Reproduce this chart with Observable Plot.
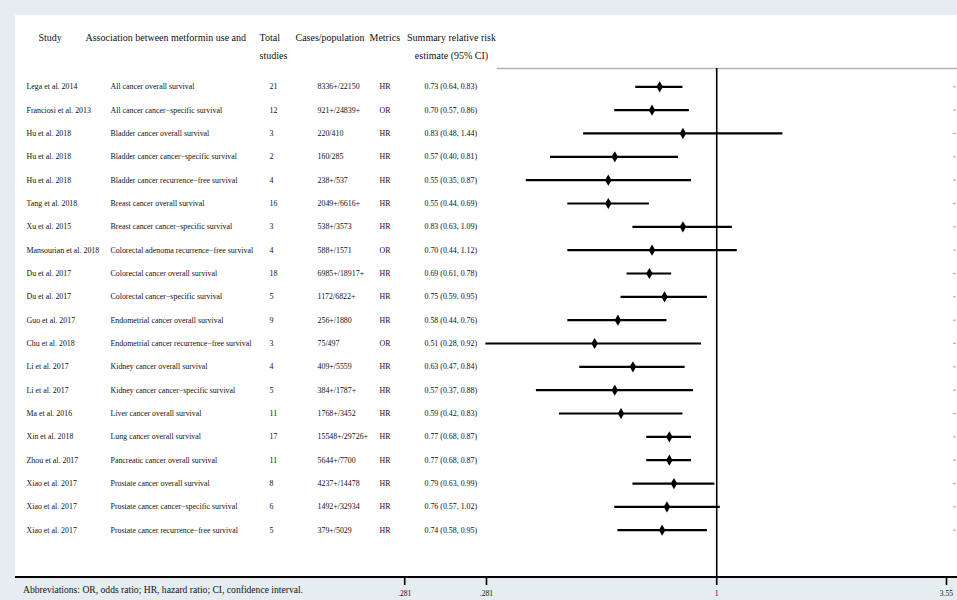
<!DOCTYPE html>
<html>
<head>
<meta charset="utf-8">
<script src="https://cdn.jsdelivr.net/npm/d3@7"></script>
<script src="https://cdn.jsdelivr.net/npm/@observablehq/plot@0.6"></script>
<style>
  html, body { margin: 0; padding: 0; }
  body { width: 957px; height: 600px; background: #e6edf1; position: relative; overflow: hidden; font-family: "Liberation Serif", "Times New Roman", serif; }
  #panel { position: absolute; left: 15px; top: 15px; width: 942px; height: 561px; background: #ffffff; border-bottom: 2px solid #000; box-sizing: content-box; }
  #chart { position: absolute; left: 0; top: 0; }
  #caption { position: absolute; left: 23px; top: 584px; font-size: 9.6px; color: #111; white-space: nowrap; }
</style>
</head>
<body>
<div id="panel"></div>
<div id="chart"></div>
<div id="caption">Abbreviations: OR, odds ratio; HR, hazard ratio; CI, confidence interval.</div>
<script>
const studies = ["Lega et al. 2014","Franciosi et al. 2013","Hu et al. 2018","Hu et al. 2018","Hu et al. 2018","Tang et al. 2018","Xu et al. 2015","Mansourian et al. 2018","Du et al. 2017","Du et al. 2017","Guo et al. 2017","Chu et al. 2018","Li et al. 2017","Li et al. 2017","Ma et al. 2016","Xin et al. 2018","Zhou et al. 2017","Xiao et al. 2017","Xiao et al. 2017","Xiao et al. 2017"];
const associations = ["All cancer overall survival","All cancer cancer\u2212specific survival","Bladder cancer overall survival","Bladder cancer cancer\u2212specific survival","Bladder cancer recurrence\u2212free survival","Breast cancer overall survival","Breast cancer cancer\u2212specific survival","Colorectal adenoma recurrence\u2212free survival","Colorectal cancer overall survival","Colorectal cancer\u2212specific survival","Endometrial cancer overall survival","Endometrial cancer recurrence\u2212free survival","Kidney cancer overall survival","Kidney cancer cancer\u2212specific survival","Liver cancer overall survival","Lung cancer overall survival","Pancreatic cancer overall survival","Prostate cancer overall survival","Prostate cancer cancer\u2212specific survival","Prostate cancer recurrence\u2212free survival"];
const totalStudies = [21,12,3,2,4,16,3,4,18,5,9,3,4,5,11,17,11,8,6,5];
const casesPopulation = ["8336+/22150","921+/24839+","220/410","160/285","238+/537","2049+/6616+","538+/3573","588+/1571","6985+/18917+","1172/6822+","256+/1880","75/497","409+/5559","384+/1787+","1768+/3452","15548+/29726+","5644+/7700","4237+/14478","1492+/32934","379+/5029"];
const metrics = ["HR","OR","HR","HR","HR","HR","HR","OR","HR","HR","HR","OR","HR","HR","HR","HR","HR","HR","HR","HR"];
const estimates = [0.73,0.70,0.83,0.57,0.55,0.55,0.83,0.70,0.69,0.75,0.58,0.51,0.63,0.57,0.59,0.77,0.77,0.79,0.76,0.74];
const lower = [0.64,0.57,0.48,0.40,0.35,0.44,0.63,0.44,0.61,0.59,0.44,0.28,0.47,0.37,0.42,0.68,0.68,0.63,0.57,0.58];
const upper = [0.83,0.86,1.44,0.81,0.87,0.69,1.09,1.12,0.78,0.95,0.76,0.92,0.84,0.88,0.83,0.87,0.87,0.99,1.02,0.95];

const headerLine1 = ["Study","Association between metformin use and","Total","Cases/population","Metrics","Summary relative risk"];
const headerLine2 = ["","","studies","","","estimate (95% CI)"];

const tickValues = [0.179, 0.281, 1, 3.55];
const tickLabels = [".281", ".281", "1", "3.55"];

const rows = studies.map((s, i) => ({
  row: i + 1,
  study: s,
  assoc: associations[i],
  total: String(totalStudies[i]),
  cases: casesPopulation[i],
  metric: metrics[i],
  est: estimates[i],
  lo: lower[i],
  hi: upper[i],
  summary: `${estimates[i].toFixed(2)} (${lower[i].toFixed(2)}, ${upper[i].toFixed(2)})`
}));

const ML = 486;           // left edge of the plot frame
const colX = [26, 110, 269, 317, 379, 424];   // table column left edges
const headX = [38, 85, 259, 295, 369, 451];
const headAnchor = ["start","start","start","start","start","middle"];

const tickLabelMap = new Map(tickValues.map((v, i) => [v, tickLabels[i]]));
const headerData = headerLine1.map((t, i) => ({t1: t, t2: headerLine2[i], i}));

const textCol = (field, k) => Plot.text(rows, {
  y: "row", text: field, frameAnchor: "left", textAnchor: "start",
  dx: colX[k] - ML, fontSize: 7.9, fill: "#111"
});

const headerMarks = headerData.flatMap((h) => [
  Plot.text([h], {text: "t1", frameAnchor: "top-left", lineAnchor: "middle", textAnchor: headAnchor[h.i], dx: headX[h.i] - ML, dy: -31, fontSize: 10, fill: "#111"}),
  Plot.text([h], {text: "t2", frameAnchor: "top-left", lineAnchor: "middle", textAnchor: headAnchor[h.i], dx: headX[h.i] - ML, dy: -13, fontSize: 10, fill: "#111"})
]);

const chart = Plot.plot({
  width: 957,
  height: 600,
  marginLeft: ML,
  marginRight: 11,
  marginTop: 68,
  marginBottom: 24,
  style: {background: "transparent", fontFamily: "Liberation Serif, Times New Roman, serif"},
  x: {type: "log", domain: [0.281, 3.55], axis: null},
  y: {type: "linear", domain: [1, 20], range: [86.3, 529.7], axis: null},
  marks: [
    Plot.frame({anchor: "top", stroke: "#b4b4b4", strokeWidth: 1.5, dx: 11}),
    // faint marks at the right edge of each row
    Plot.ruleY(rows, {y: "row", stroke: "#b4b4b4", strokeWidth: 1.2, insetLeft: 457, dx: 10}),
    Plot.ruleX([1], {stroke: "#000", strokeWidth: 1.6}),
    Plot.ruleY(rows, {y: "row", x1: "lo", x2: "hi", stroke: "#000", strokeWidth: 2.2}),
    Plot.dot(rows, {x: "est", y: "row", symbol: "diamond", r: 3.4, fill: "#000", stroke: "none"}),
    textCol("study", 0),
    textCol("assoc", 1),
    textCol("total", 2),
    textCol("cases", 3),
    textCol("metric", 4),
    textCol("summary", 5),
    ...headerMarks,
    // tick marks below the axis line
    Plot.ruleX(tickValues, {x: d => d, stroke: "#000", strokeWidth: 1.6, insetTop: 500, dy: 9}),
    Plot.text(tickValues, {
      x: d => d, text: d => tickLabelMap.get(d), frameAnchor: "bottom",
      lineAnchor: "middle", dy: 17, fontSize: 7.6, fill: "#111"
    })
  ]
});
document.getElementById("chart").appendChild(chart);
</script>
</body>
</html>
